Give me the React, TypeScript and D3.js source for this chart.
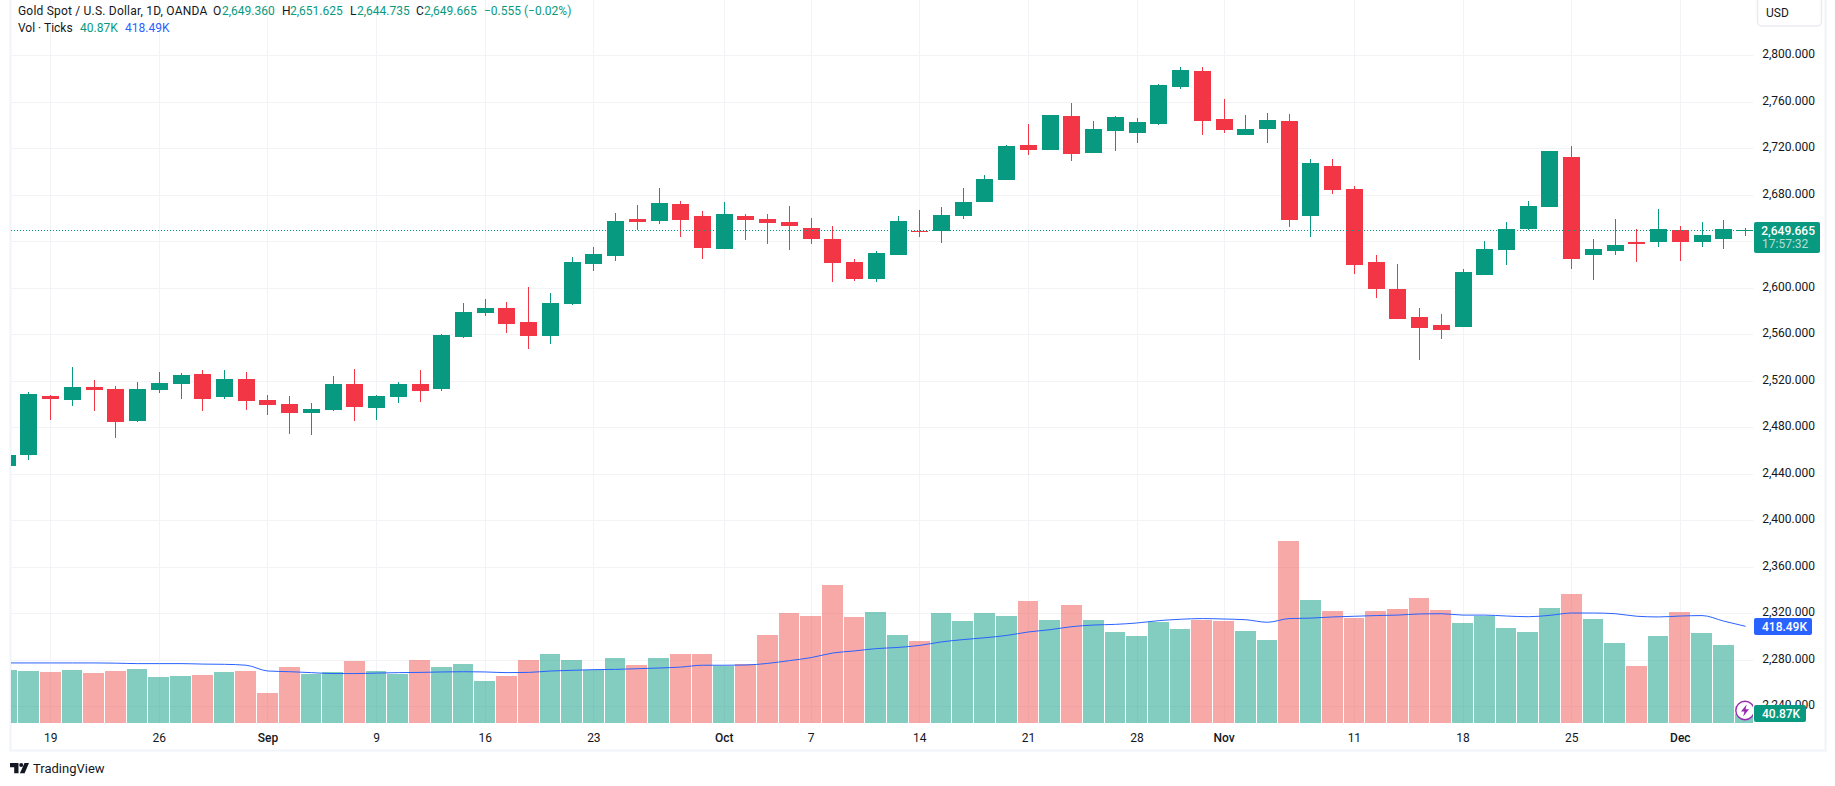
import { useEffect, useRef } from 'react';
import * as d3 from 'd3';

// trading days, Aug 15 to Dec 5 2024
const dates = [
  'Aug15', 'Aug16',
  'Aug19', 'Aug20', 'Aug21', 'Aug22', 'Aug23', 'Aug26', 'Aug27', 'Aug28', 'Aug29', 'Aug30',
  'Sep2', 'Sep3', 'Sep4', 'Sep5', 'Sep6', 'Sep9', 'Sep10', 'Sep11', 'Sep12', 'Sep13',
  'Sep16', 'Sep17', 'Sep18', 'Sep19', 'Sep20', 'Sep23', 'Sep24', 'Sep25', 'Sep26', 'Sep27', 'Sep30',
  'Oct1', 'Oct2', 'Oct3', 'Oct4', 'Oct7', 'Oct8', 'Oct9', 'Oct10', 'Oct11',
  'Oct14', 'Oct15', 'Oct16', 'Oct17', 'Oct18', 'Oct21', 'Oct22', 'Oct23', 'Oct24', 'Oct25',
  'Oct28', 'Oct29', 'Oct30', 'Oct31', 'Nov1', 'Nov4', 'Nov5', 'Nov6', 'Nov7', 'Nov8',
  'Nov11', 'Nov12', 'Nov13', 'Nov14', 'Nov15', 'Nov18', 'Nov19', 'Nov20', 'Nov21', 'Nov22',
  'Nov25', 'Nov26', 'Nov27', 'Nov28', 'Nov29', 'Dec2', 'Dec3', 'Dec4', 'Dec5',
];

const opens = [
  2447, 2456,
  2507, 2503.5, 2514.7, 2513, 2485.5, 2512.1, 2517.3, 2525.9, 2506.1, 2521.6,
  2503.5, 2500.1, 2492.3, 2494.9, 2517.3, 2496.6, 2506.1, 2517.3, 2513, 2557.7,
  2578.4, 2582.7, 2570.6, 2558.6, 2586.1, 2620.5, 2627.4, 2659.2, 2657.5, 2672.1, 2661.8,
  2633.4, 2661.8, 2659.2, 2656.6, 2651.5, 2642, 2622.2, 2607.6, 2628.2,
  2648.9, 2648.9, 2661.8, 2673.8, 2692.8, 2722.9, 2718.6, 2747.8, 2716, 2734.9,
  2733.2, 2740.9, 2772.8, 2786.5, 2745.2, 2731.5, 2736.6, 2743.5, 2661.8, 2704.8,
  2684.6, 2621.8, 2598.6, 2574.5, 2567.6, 2566.7, 2610.6, 2632.1, 2650.2, 2669.1,
  2712.1, 2627.8, 2631.3, 2639, 2639, 2649.3, 2639, 2642.4, 2649.36,
];
const highs = [
  2464, 2510.4,
  2507.8, 2531.9, 2520.7, 2515.6, 2519, 2527.6, 2526.7, 2529.3, 2529.3, 2527.6,
  2507.8, 2507, 2500.9, 2524.2, 2530.2, 2507.8, 2519, 2529.3, 2560.3, 2587,
  2590.4, 2587.8, 2600.7, 2595.6, 2626.5, 2635.1, 2664.4, 2671.3, 2685.9, 2674.7, 2666.1,
  2673.8, 2663.5, 2663.5, 2670.4, 2660.1, 2653.2, 2624.8, 2631.7, 2661.8,
  2667, 2669.5, 2685.9, 2697.1, 2722.9, 2740.9, 2748.7, 2759, 2743.5, 2747.8,
  2746.1, 2775.3, 2790, 2790, 2762.4, 2748.7, 2750.4, 2749.5, 2710.8, 2710.8,
  2687.2, 2627.8, 2620.1, 2582.2, 2577.1, 2615.8, 2639.9, 2656.2, 2674.3, 2717.3,
  2722.4, 2642.4, 2658.8, 2650.2, 2667.4, 2652.8, 2656.2, 2657.9, 2651.625,
];
const lows = [
  2432, 2452,
  2486.3, 2498.4, 2494, 2471, 2484.6, 2509.5, 2504.4, 2494, 2504.4, 2494.9,
  2490.6, 2474, 2473, 2494, 2485.5, 2486.3, 2500.9, 2501.8, 2511.3, 2556.8,
  2575.8, 2561.1, 2547.4, 2551.7, 2585.2, 2614.5, 2623.1, 2649.7, 2654.9, 2643.7, 2624.8,
  2633.4, 2641.1, 2637.7, 2632.5, 2637.7, 2605, 2605.9, 2605, 2628.2,
  2643.7, 2638.6, 2659.2, 2673.8, 2692.8, 2714.3, 2718.6, 2709.1, 2716, 2717.7,
  2724.6, 2740.1, 2771, 2731.5, 2733.2, 2731.5, 2724.6, 2652.3, 2643.7, 2680.7,
  2611.5, 2590.8, 2572.8, 2537.5, 2555.6, 2566.7, 2610.6, 2620, 2649.3, 2669.1,
  2616.6, 2606.3, 2627.8, 2621.8, 2634.7, 2622.7, 2634.7, 2633, 2644.735,
];
const closes = [
  2456, 2508.7,
  2504.4, 2514.7, 2512.1, 2484.6, 2513, 2518.1, 2525, 2504.4, 2521.6, 2502.7,
  2499.2, 2492.3, 2495.8, 2517.3, 2497.5, 2507, 2517.3, 2511.3, 2559.4, 2579.2,
  2582.7, 2568.9, 2558.6, 2587, 2622.2, 2629.1, 2657.5, 2656.6, 2673, 2658.4, 2634.3,
  2663.5, 2658.4, 2655.8, 2653.2, 2642, 2621.4, 2607.6, 2630, 2657.5,
  2648, 2662.7, 2673.8, 2693.6, 2722, 2718.6, 2748.7, 2715.1, 2736.6, 2747,
  2742.7, 2774.5, 2787.4, 2743.5, 2735.8, 2736.6, 2744.4, 2658.4, 2707.4, 2684.2,
  2619.2, 2598.6, 2572.8, 2565, 2563.3, 2613.2, 2633, 2651, 2670, 2717.3,
  2625.2, 2633.8, 2636.4, 2638.1, 2651, 2639, 2645, 2651, 2649.665,
];

// tick volume, thousands
const volumes = [
  228, 224,
  219, 228, 215, 224, 232, 198, 202, 206, 219, 224,
  128, 241, 211, 219, 267, 224, 211, 271, 241, 254,
  180, 202, 271, 297, 271, 228, 280, 250, 280, 297, 297,
  245, 254, 379, 475, 462, 596, 457, 479, 379,
  353, 475, 440, 475, 462, 527, 444, 509, 444, 392,
  375, 436, 405, 444, 440, 397, 358, 786, 531, 483,
  453, 483, 492, 540, 488, 431, 462, 410, 392, 496,
  557, 449, 345, 245, 375, 479, 388, 336, 40.87,
];
const volumeMa = [
  260, 260,
  260, 260, 260, 259, 257, 257, 257, 255, 254, 250,
  225, 222, 218, 214, 214, 216, 218, 219, 221, 222,
  221, 218, 219, 225, 228, 231, 232, 235, 238, 242, 250,
  250, 251, 258, 270, 283, 303, 312, 322, 327,
  336, 351, 361, 369, 379, 394, 404, 417, 424, 427,
  433, 443, 449, 452, 450, 447, 436, 452, 454, 459,
  462, 465, 467, 472, 473, 467, 467, 463, 460, 466,
  476, 476, 473, 462, 459, 463, 465, 441, 418.49,
];

const priceTicks = [2240, 2280, 2320, 2360, 2400, 2440, 2480, 2520, 2560, 2600, 2640, 2680, 2720, 2760, 2800];
// 2,640 sits behind the last price label in the picture
const hiddenPriceLabels = [2640];
const timeTickDates = ['Aug19', 'Aug26', 'Sep2', 'Sep9', 'Sep16', 'Sep23', 'Oct1', 'Oct7', 'Oct14', 'Oct21', 'Oct28', 'Nov1', 'Nov11', 'Nov18', 'Nov25', 'Dec2'];
const timeTickLabels = ['19', '26', 'Sep', '9', '16', '23', 'Oct', '7', '14', '21', '28', 'Nov', '11', '18', '25', 'Dec'];

const lastPrice = 2649.665;
const legendTitle = 'Gold Spot / U.S. Dollar, 1D, OANDA';
const legendOhlc = ['2,649.360', '2,651.625', '2,644.735', '2,649.665'];
const legendChange = '\u22120.555 (\u22120.02%)';

const WIDTH = 1835;
const HEIGHT = 786;
const FONT = 'Roboto, sans-serif';
const UP = '#089981';
const DOWN = '#F23645';
const VOL_DOWN = '#EF5350';
const BLUE = '#2962FF';
const TEXT = '#131722';
const GRID = '#F2F3F6';
const FRAME = '#F0F3FA';

export default function App() {
  const svgRef = useRef<SVGSVGElement>(null);

  useEffect(() => {
    if (!svgRef.current) return;
    const svg = d3.select(svgRef.current);
    svg.selectAll('*').remove();

    const paneLeft = 11;
    const paneRight = 1753;
    const paneBottom = 723;

    const x = d3.scalePoint<string>().domain(dates).range([7.2, 1745.5]);
    const y = d3.scaleLinear().domain([2240, 2800]).range([706.3, 55.3]);
    const vol = d3.scaleLinear().domain([0, 786]).range([paneBottom, paneBottom - 181.6]);
    const step = x.step();
    const px = (i: number) => x(dates[i]) as number;
    const rows = dates.map((_, i) => i);
    const isUp = (i: number) => closes[i] >= opens[i];

    svg.append('rect').attr('width', WIDTH).attr('height', HEIGHT).attr('fill', '#fff');

    svg.append('defs').append('clipPath').attr('id', 'pane')
      .append('rect')
      .attr('x', paneLeft).attr('y', 0)
      .attr('width', paneRight - paneLeft).attr('height', paneBottom);

    // Frame around the chart
    svg.append('path')
      .attr('d', `M10.5 0V750.5H1825.5V0`)
      .attr('fill', 'none')
      .attr('stroke', FRAME)
      .attr('stroke-width', 2);

    // Grid
    const grid = svg.append('g').attr('shape-rendering', 'crispEdges').attr('stroke', GRID);
    priceTicks.forEach((p) => {
      const gy = Math.round(y(p)) + 0.5;
      grid.append('line').attr('x1', paneLeft).attr('x2', paneRight).attr('y1', gy).attr('y2', gy);
    });
    timeTickDates.forEach((d) => {
      const gx = Math.floor(x(d) as number) + 0.5;
      grid.append('line').attr('x1', gx).attr('x2', gx).attr('y1', 0).attr('y2', paneBottom);
    });

    const pane = svg.append('g').attr('clip-path', 'url(#pane)');

    // Volume bars
    pane.append('g').attr('shape-rendering', 'crispEdges')
      .selectAll('rect')
      .data(rows)
      .join('rect')
      .attr('x', (i) => Math.round(px(i) - step / 2))
      .attr('width', (i) => Math.round(px(i) + step / 2) - 1 - Math.round(px(i) - step / 2))
      .attr('y', (i) => Math.round(vol(volumes[i])))
      .attr('height', (i) => paneBottom - Math.round(vol(volumes[i])))
      .attr('fill', (i) => (isUp(i) ? UP : VOL_DOWN))
      .attr('fill-opacity', 0.5);

    // Volume moving average
    const maLine = d3.line<number>()
      .x((i) => px(i))
      .y((i) => vol(volumeMa[i]))
      .curve(d3.curveMonotoneX);
    pane.append('path')
      .attr('d', maLine(rows))
      .attr('fill', 'none')
      .attr('stroke', BLUE)
      .attr('stroke-width', 1);

    // Candles
    const candles = pane.append('g').attr('shape-rendering', 'crispEdges');
    rows.forEach((i) => {
      const cx = Math.floor(px(i));
      const color = isUp(i) ? UP : DOWN;
      const top = Math.round(y(Math.max(opens[i], closes[i])));
      const bottom = Math.round(y(Math.min(opens[i], closes[i])));
      const high = Math.round(y(highs[i]));
      const low = Math.round(y(lows[i]));
      candles.append('rect')
        .attr('x', cx).attr('y', high)
        .attr('width', 1).attr('height', Math.max(1, low - high))
        .attr('fill', color);
      candles.append('rect')
        .attr('x', cx - 8).attr('y', top)
        .attr('width', 17).attr('height', Math.max(1, bottom - top))
        .attr('fill', color);
    });

    // Last price line
    const lastY = Math.round(y(lastPrice)) + 0.5;
    pane.append('line')
      .attr('x1', paneLeft).attr('x2', paneRight)
      .attr('y1', lastY).attr('y2', lastY)
      .attr('stroke', UP)
      .attr('stroke-width', 1)
      .attr('stroke-dasharray', '1 2')
      .attr('shape-rendering', 'crispEdges');

    // Lightning badge on the last bar
    const badge = pane.append('g').attr('transform', 'translate(1745,710.5)');
    badge.append('circle').attr('r', 9.2).attr('fill', '#fff').attr('stroke', '#9C27B0').attr('stroke-width', 1.4);
    badge.append('path').attr('d', 'M1.6 -6L-4 1H-0.6L-1.8 6L4 -1.2H0.6Z').attr('fill', '#9C27B0');

    const text = (
      tx: number,
      ty: number,
      value: string,
      fill: string,
      anchor = 'start',
      size = 12,
      weight = 400,
    ) =>
      svg.append('text')
        .attr('x', tx)
        .attr('y', ty)
        .attr('text-anchor', anchor)
        .attr('font-family', FONT)
        .attr('font-size', size)
        .attr('font-weight', weight)
        .attr('fill', fill)
        .text(value);

    // Price axis
    priceTicks.filter((p) => !hiddenPriceLabels.includes(p)).forEach((p) => {
      text(1815, Math.round(y(p)) + 3, d3.format(',.3f')(p), TEXT, 'end');
    });

    // USD box
    svg.append('rect')
      .attr('x', 1757.5).attr('y', -4)
      .attr('width', 64).attr('height', 30)
      .attr('rx', 4)
      .attr('fill', '#fff')
      .attr('stroke', '#E9ECF3')
      .attr('stroke-width', 1.5);
    text(1766, 17, 'USD', TEXT);

    // Last value labels on the axis
    svg.append('rect').attr('x', 1754).attr('y', 222).attr('width', 66).attr('height', 31).attr('rx', 2).attr('fill', UP);
    text(1815, 234.5, d3.format(',.3f')(lastPrice), '#fff', 'end', 12, 500);
    text(1762, 248, '17:57:32', '#fff', 'start').attr('fill-opacity', 0.7);

    svg.append('rect').attr('x', 1754).attr('y', 618).attr('width', 58).attr('height', 17).attr('rx', 2).attr('fill', BLUE);
    text(1762, 631, '418.49K', '#fff', 'start', 12, 500);

    svg.append('rect').attr('x', 1754).attr('y', 705).attr('width', 52).attr('height', 17).attr('rx', 2).attr('fill', UP);
    text(1762, 718, '40.87K', '#fff', 'start', 12, 500);

    // Time axis
    timeTickDates.forEach((d, i) => {
      const label = timeTickLabels[i];
      text(x(d) as number, 742, label, TEXT, 'middle', 12, /[A-Z]/.test(label) ? 500 : 400);
    });

    // Legend
    text(18, 15, legendTitle, TEXT).attr('letter-spacing', 0.2);
    ['O', 'H', 'L', 'C'].forEach((k, i) => {
      text([213, 282, 350, 416][i], 15, k, TEXT);
      text([222, 290, 357, 424][i], 15, legendOhlc[i], UP);
    });
    text(484, 15, legendChange, UP);
    text(18, 32, 'Vol \u00B7 Ticks', TEXT);
    text(80, 32, '40.87K', UP);
    text(125, 32, '418.49K', BLUE);

    // TradingView mark
    const logo = svg.append('g').attr('transform', 'translate(10,763)').attr('fill', TEXT);
    logo.append('path').attr('d', 'M0 0H8.5V10.2H4.2V4.2H0Z');
    logo.append('circle').attr('cx', 11.2).attr('cy', 2).attr('r', 2);
    logo.append('path').attr('d', 'M14.5 0H19L14.6 10.2H9.9Z');
    text(33, 773, 'TradingView', TEXT, 'start', 13);
  }, []);

  return (
    <svg
      ref={svgRef}
      width={WIDTH}
      height={HEIGHT}
      style={{ position: 'absolute', left: 0, top: 0, display: 'block' }}
    />
  );
}
